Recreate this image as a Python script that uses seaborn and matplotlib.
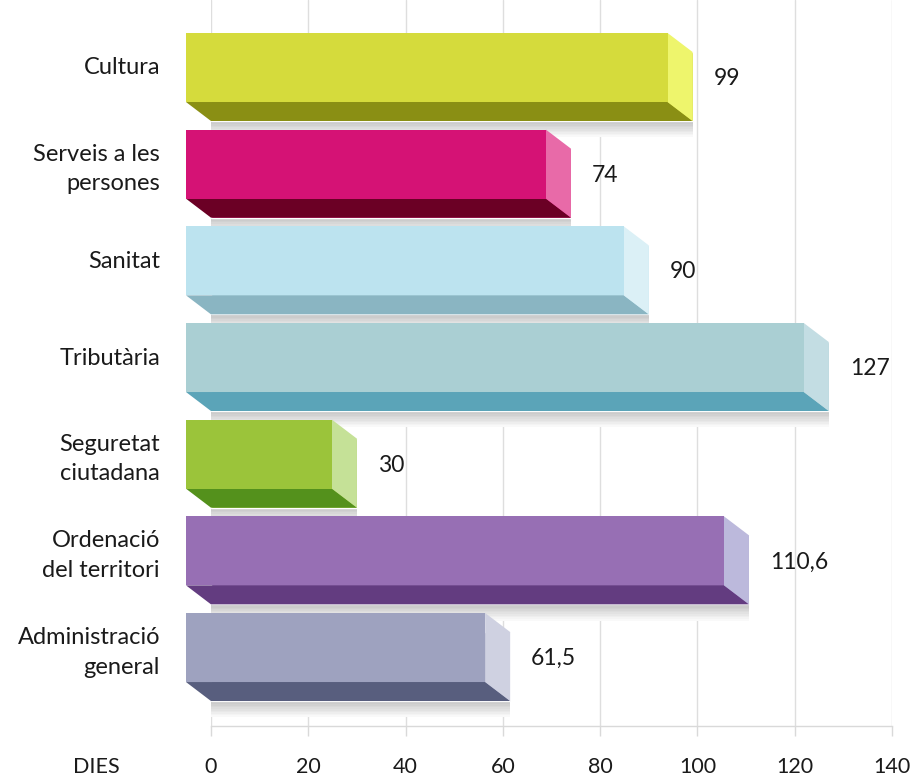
import numpy as np
import pandas as pd
import matplotlib
matplotlib.use("Agg")
import matplotlib.pyplot as plt
from matplotlib.patches import Rectangle, Polygon
import matplotlib.colors as mcolors
import seaborn as sns

categories = ["Cultura", "Serveis a les\npersones", "Sanitat", "Tributària",
              "Seguretat\nciutadana", "Ordenació\ndel territori", "Administració\ngeneral"]
values = [99, 74, 90, 127, 30, 110.6, 61.5]
x_ticks = [0, 20, 40, 60, 80, 100, 120, 140]
front_colors = ["#d5db3c", "#d51275", "#bce3ef", "#aacfd3", "#9bc43a", "#976fb4", "#9ea2bf"]
side_colors = ["#eef56c", "#e86aa8", "#dbf0f6", "#c3dde3", "#c5e197", "#bcb9dc", "#cfd1e1"]
bottom_colors = ["#8a8f14", "#6b0025", "#8ab5c2", "#5ba4b8", "#54911c", "#633c80", "#585e7e"]
axis_label = "DIES"

sns.set_theme(style="white")
plt.rcParams["font.family"] = ["Lato", "DejaVu Sans"]

W, H = 911, 778
fig = plt.figure(figsize=(W / 100, H / 100), dpi=100)
ax_left, ax_right, ax_top, ax_bot = 211, 892, 0, 726
ax = fig.add_axes([ax_left / W, 1 - ax_bot / H, (ax_right - ax_left) / W, (ax_bot - ax_top) / H])

df = pd.DataFrame({"cat": categories, "val": values})
sns.barplot(data=df, x="val", y="cat", hue="cat", palette=front_colors, legend=False,
            orient="h", width=0.714, saturation=1, ax=ax, zorder=2)

xmin, xmax = 0, 140
px_per_x = (ax_right - ax_left) / (xmax - xmin)
y0_px, dy_px = 86.5, 96.67
ax.set_xlim(xmin, xmax)
ax.set_ylim((ax_bot - y0_px) / dy_px, (ax_top - y0_px) / dy_px)

dxd = -25 / px_per_x
dyd = -19 / dy_px
shadow_h = 16 / dy_px

for i, p in enumerate(ax.patches[:len(values)]):
    x0, w, y0, h = p.get_x(), p.get_width(), p.get_y(), p.get_height()
    # shadow
    n = 10
    for k in range(n):
        t = k / n
        c = mcolors.to_hex(np.array(mcolors.to_rgb("#c6c6c6")) * (1 - t) + np.array([1, 1, 1]) * t)
        ax.add_patch(Rectangle((x0, y0 + h + shadow_h * k / n), w, shadow_h / n + 0.002,
                               facecolor=c, edgecolor="none", zorder=1.5, clip_on=False))
    # bottom face
    ax.add_patch(Polygon([(x0 + dxd, y0 + h + dyd), (x0 + w + dxd, y0 + h + dyd),
                          (x0 + w, y0 + h), (x0, y0 + h)],
                         closed=True, facecolor=bottom_colors[i], edgecolor="none",
                         zorder=3, clip_on=False))
    # side face
    ax.add_patch(Polygon([(x0 + w + dxd, y0 + dyd), (x0 + w, y0), (x0 + w, y0 + h),
                          (x0 + w + dxd, y0 + h + dyd)],
                         closed=True, facecolor=side_colors[i], edgecolor="none",
                         zorder=3, clip_on=False))
    # front face
    ax.add_patch(Rectangle((x0 + dxd, y0 + dyd), w, h, facecolor=front_colors[i],
                           edgecolor="none", zorder=4, clip_on=False))
    # value label
    lab = f"{values[i]:g}".replace(".", ",")
    ax.text(x0 + w + 21 / px_per_x, i - 8 / dy_px, lab, ha="left", va="center",
            fontsize=16.5, color="#1a1a1a", zorder=5)

# category labels
ax.set_yticks(np.arange(len(categories)) + dyd - 1.5 / dy_px)
ax.set_yticklabels(categories, fontsize=17, color="#1a1a1a", linespacing=1.5, ha="right")
ax.tick_params(axis="y", length=0, pad=51 * 0.72)

ax.set_xticks(x_ticks)
ax.set_xticklabels([str(t) for t in x_ticks], fontsize=15.5, color="#1a1a1a")
ax.tick_params(axis="x", direction="out", length=7, width=1, color="#d9d9d9", pad=15, bottom=True)
ax.set_xlabel("")
ax.set_ylabel("")

ax.grid(axis="x", color="#dedede", lw=1)
ax.grid(axis="y", visible=False)
ax.set_axisbelow(True)
for s in ["top", "right", "left"]:
    ax.spines[s].set_visible(False)
ax.spines["bottom"].set_color("#d9d9d9")
ax.spines["bottom"].set_linewidth(1)

fig.text(96 / W, 1 - 767 / H, axis_label, ha="center", va="center", fontsize=15.5, color="#1a1a1a")

fig.savefig("out.png", dpi=100)
